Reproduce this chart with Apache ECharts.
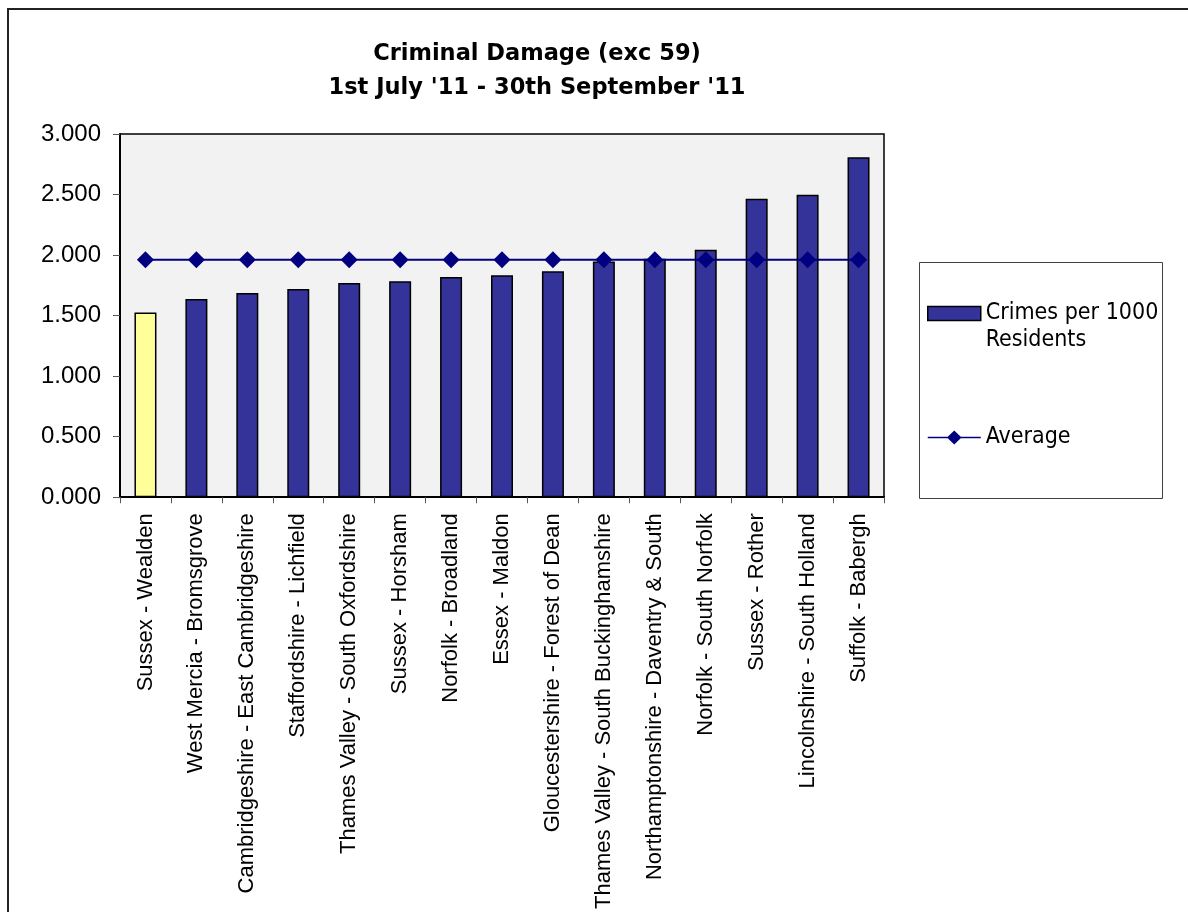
<!DOCTYPE html>
<html>
<head>
<meta charset="utf-8">
<script src="https://cdn.jsdelivr.net/npm/echarts@6/dist/echarts.min.js"></script>
<style>
html,body{margin:0;padding:0;background:#fff;}
#chart{width:1188px;height:912px;}
</style>
</head>
<body>
<div id="chart"></div>
<script>
var categories = [
  "Sussex - Wealden",
  "West Mercia - Bromsgrove",
  "Cambridgeshire - East Cambridgeshire",
  "Staffordshire - Lichfield",
  "Thames Valley - South Oxfordshire",
  "Sussex - Horsham",
  "Norfolk - Broadland",
  "Essex - Maldon",
  "Gloucestershire - Forest of Dean",
  "Thames Valley - South Buckinghamshire",
  "Northamptonshire - Daventry & South",
  "Norfolk - South Norfolk",
  "Sussex - Rother",
  "Lincolnshire - South Holland",
  "Suffolk - Babergh"
];
var crimesPer1000 = [1.526, 1.638, 1.687, 1.720, 1.769, 1.783, 1.818, 1.834, 1.867, 1.947, 1.969, 2.045, 2.466, 2.499, 2.808];
var average = [1.961, 1.961, 1.961, 1.961, 1.961, 1.961, 1.961, 1.961, 1.961, 1.961, 1.961, 1.961, 1.961, 1.961, 1.961];
var highlightIndex = 0;
var seriesNames = ['Crimes per 1000\nResidents', 'Average'];

var chart = echarts.init(document.getElementById('chart'), null, {renderer: 'canvas'});

var barData = crimesPer1000.map(function (v, i) {
  if (i === highlightIndex) {
    return {value: v, itemStyle: {color: '#FFFF99'}};
  }
  return v;
});

var option = {
  animation: false,
  backgroundColor: '#ffffff',
  title: {
    text: "Criminal Damage (exc 59)\n1st July '11 - 30th September '11",
    left: 532,
    top: 32,
    textAlign: 'center',
    textStyle: {
      fontFamily: 'DejaVu Sans',
      fontWeight: 'bold',
      fontSize: 22.5,
      lineHeight: 34,
      color: '#000'
    }
  },
  graphic: [
    {
      type: 'rect',
      z: -10,
      shape: {x: 8, y: 9, width: 1300, height: 1000},
      style: {fill: 'none', stroke: '#222', lineWidth: 2}
    },
    {
      type: 'rect',
      z: 0,
      shape: {x: 919.5, y: 262.5, width: 243, height: 236},
      style: {fill: '#ffffff', stroke: '#404040', lineWidth: 1}
    }
  ],
  legend: {
    orient: 'vertical',
    left: 927,
    top: 273,
    padding: 0,
    itemWidth: 53,
    itemHeight: 14,
    itemGap: 70,
    z: 5,
    formatter: function (name) {
      return name === seriesNames[0] ? '\n' + name : name;
    },
    textStyle: {
      fontFamily: 'DejaVu Sans Condensed, DejaVu Sans',
      fontSize: 23,
      lineHeight: 27,
      color: '#000'
    },
    data: [
      {name: seriesNames[0], icon: 'rect', itemStyle: {borderWidth: 1.5, borderColor: '#000'}},
      {name: seriesNames[1], icon: 'path://M0,6.2 L20,6.2 L26.5,0 L33,6.2 L53,6.2 L53,7.8 L33,7.8 L26.5,14 L20,7.8 L0,7.8 Z', itemStyle: {color: '#000080', borderWidth: 0}}
    ]
  },
  grid: {
    left: 120,
    top: 134,
    width: 764,
    height: 365,
    show: true,
    backgroundColor: '#F2F2F2',
    borderColor: '#000',
    borderWidth: 1.5
  },
  xAxis: {
    type: 'category',
    data: categories,
    axisLine: {lineStyle: {color: '#000', width: 2}},
    axisTick: {show: true, length: 6, lineStyle: {color: '#555', width: 1}},
    axisLabel: {
      interval: 0,
      rotate: 90,
      margin: 16,
      fontFamily: 'Liberation Sans, Arial',
      fontSize: 22,
      color: '#000'
    }
  },
  yAxis: {
    type: 'value',
    min: 0,
    max: 3,
    interval: 0.5,
    splitLine: {show: false},
    axisLine: {show: true, lineStyle: {color: '#000', width: 2}},
    axisTick: {show: true, length: 7, lineStyle: {color: '#555', width: 1}},
    axisLabel: {
      margin: 19,
      fontFamily: 'Liberation Sans, Arial',
      fontSize: 24,
      color: '#000',
      formatter: function (v) { return v.toFixed(3); }
    }
  },
  series: [
    {
      name: seriesNames[0],
      type: 'bar',
      data: barData,
      barWidth: 22,
      itemStyle: {color: '#333399', borderColor: '#000', borderWidth: 1.5},
      z: 2
    },
    {
      name: seriesNames[1],
      type: 'line',
      data: average,
      symbol: 'diamond',
      symbolSize: 17,
      lineStyle: {color: '#000080', width: 2},
      itemStyle: {color: '#000080'},
      z: 3
    }
  ]
};
chart.setOption(option);
</script>
</body>
</html>
